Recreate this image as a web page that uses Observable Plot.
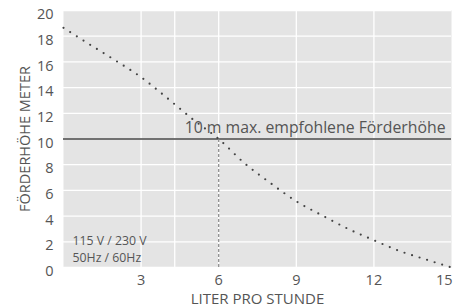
<!DOCTYPE html>
<html><head><meta charset="utf-8">
<script src="https://cdn.jsdelivr.net/npm/d3@7"></script>
<script src="https://cdn.jsdelivr.net/npm/@observablehq/plot@0.6"></script>
<style>body{margin:0;background:#fff}</style>
</head><body><div id="chart"></div>
<script>
const flow = [0,1,2,3,4,5,6,7,8,9,10,11,12,13,14,15];
const head = [18.65,17.37,16.12,14.81,13.2,11.53,10,8.11,6.57,5.15,4.05,3.01,2.12,1.28,0.63,0];
const xTicks = [3,6,9,12];
const xLastTick = [15];
const xGrid = [3,4.3,6,9,12];
const yTicks = [0,2,4,6,8,10,12,14,16,18,20];
const maxHead = 10;
const maxHeadFlow = 6;
const maxLabel = "10 m max. empfohlene Förderhöhe";
const voltLines = ["115 V / 230 V", "50Hz / 60Hz"];
const xLabel = "LITER PRO STUNDE";
const yLabel = "FÖRDERHÖHE METER";

const data = flow.map((f, i) => ({flow: f, head: head[i]}));
const txt = "#555";

const chart = Plot.plot({
  width: 467, height: 308,
  marginLeft: 63, marginRight: 16, marginTop: 10, marginBottom: 41,
  style: {fontFamily: "'Open Sans', sans-serif", fontSize: "14px", color: txt, background: "#fff"},
  x: {domain: [0, 15]},
  y: {domain: [0, 20]},
  marks: [
    Plot.frame({fill: "#e4e4e4", stroke: null}),
    Plot.ruleX(xGrid, {stroke: "#fff", strokeWidth: 1.3}),
    Plot.ruleY(yTicks, {stroke: "#fff", strokeWidth: 1.3}),
    Plot.ruleY([maxHead], {stroke: "#444", strokeWidth: 1.3}),
    Plot.ruleX([maxHeadFlow], {y1: 0, y2: maxHead, stroke: "#888", strokeWidth: 1.2, strokeDasharray: "3,2"}),
    Plot.line(data, {x: "flow", y: "head", curve: "monotone-x", stroke: "#444", strokeWidth: 2.2, strokeDasharray: "0,7.9", strokeLinecap: "round"}),
    Plot.axisY(yTicks, {tickSize: 0, tickPadding: 10, dy: 4, fontSize: 14.5, fill: txt, label: yLabel, labelAnchor: "center", labelArrow: "none", labelOffset: 44}),
    Plot.axisX(xTicks, {tickSize: 0, tickPadding: 7, fontSize: 14.5, fill: txt, label: null}),
    Plot.text(xLastTick, {x: d => d, frameAnchor: "bottom", textAnchor: "end", lineAnchor: "top", dy: 7, dx: 1, fontSize: 14.5, fill: txt}),
    Plot.text([xLabel], {frameAnchor: "bottom", lineAnchor: "middle", dy: 32, fontSize: 15, fill: txt}),
    Plot.text([maxLabel], {x: () => 15, y: () => maxHead, textAnchor: "end", lineAnchor: "bottom", dx: -6, dy: -6, fontSize: 15.8, fill: txt}),
    Plot.text([voltLines.join("\n")], {frameAnchor: "bottom-left", textAnchor: "start", lineAnchor: "bottom", dx: 9, dy: -6, fontSize: 12.3, lineHeight: 1.37, fill: txt})
  ]
});
document.getElementById("chart").appendChild(chart);
</script>
</body></html>
